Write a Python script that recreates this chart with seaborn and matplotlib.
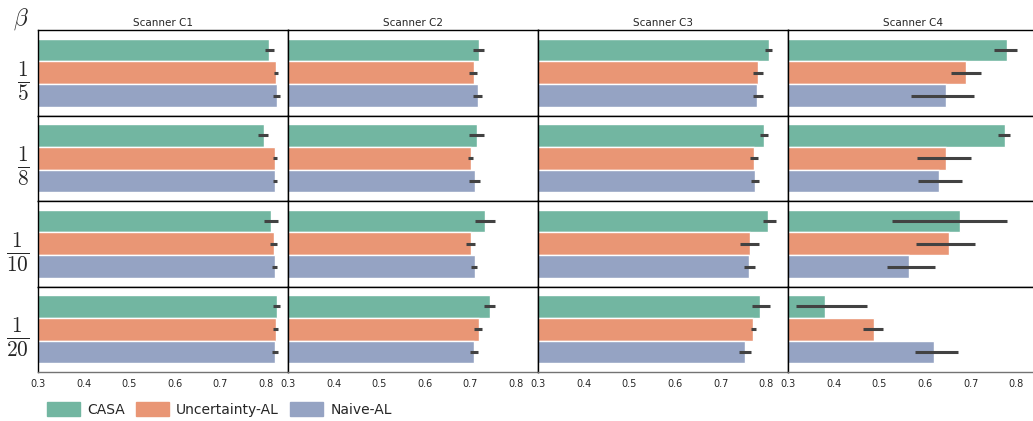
import numpy as np
import pandas as pd
import matplotlib.pyplot as plt
import seaborn as sns

sns.set_style("white")
plt.rcParams["mathtext.fontset"] = "cm"

# =======================================================================
# 1. DATA (mean score and error-bar limits)
# =======================================================================
scanners = ["Scanner C1", "Scanner C2", "Scanner C3", "Scanner C4"]
betas = [r"$\frac{1}{5}$", r"$\frac{1}{8}$", r"$\frac{1}{10}$", r"$\frac{1}{20}$"]
methods = ["CASA", "Uncertainty-AL", "Naive-AL"]

# rows = beta (1/5, 1/8, 1/10, 1/20), cols = method (CASA, Unc-AL, Naive-AL)
c1_mean = [[0.806, 0.821, 0.823], [0.795, 0.819, 0.819], [0.810, 0.817, 0.819], [0.823, 0.821, 0.819]]
c1_lo = [[0.797, 0.817, 0.815], [0.783, 0.814, 0.814], [0.795, 0.808, 0.812], [0.816, 0.816, 0.813]]
c1_hi = [[0.817, 0.826, 0.831], [0.805, 0.823, 0.824], [0.826, 0.823, 0.823], [0.830, 0.825, 0.825]]

c2_mean = [[0.718, 0.707, 0.716], [0.714, 0.701, 0.710], [0.732, 0.701, 0.710], [0.743, 0.718, 0.707]]
c2_lo = [[0.705, 0.696, 0.706], [0.696, 0.695, 0.697], [0.710, 0.690, 0.701], [0.730, 0.708, 0.698]]
c2_hi = [[0.729, 0.715, 0.725], [0.730, 0.705, 0.720], [0.754, 0.710, 0.715], [0.754, 0.726, 0.716]]

c3_mean = [[0.807, 0.782, 0.780], [0.796, 0.774, 0.776], [0.804, 0.765, 0.763], [0.787, 0.771, 0.754]]
c3_lo = [[0.798, 0.770, 0.770], [0.786, 0.764, 0.767], [0.793, 0.743, 0.751], [0.769, 0.766, 0.740]]
c3_hi = [[0.813, 0.793, 0.792], [0.803, 0.782, 0.785], [0.822, 0.784, 0.775], [0.808, 0.777, 0.767]]

c4_mean = [[0.780, 0.690, 0.646], [0.776, 0.646, 0.631], [0.677, 0.653, 0.565], [0.381, 0.488, 0.620]]
c4_lo = [[0.752, 0.657, 0.570], [0.759, 0.583, 0.584], [0.528, 0.581, 0.517], [0.318, 0.465, 0.578]]
c4_hi = [[0.802, 0.722, 0.708], [0.787, 0.700, 0.682], [0.779, 0.709, 0.621], [0.472, 0.508, 0.673]]

means = [c1_mean, c2_mean, c3_mean, c4_mean]
lows = [c1_lo, c2_lo, c3_lo, c4_lo]
highs = [c1_hi, c2_hi, c3_hi, c4_hi]

rows = []
for s, scanner in enumerate(scanners):
    for b, beta in enumerate(betas):
        for m, method in enumerate(methods):
            rows.append({"scanner": scanner, "beta": beta, "method": method,
                         "score": means[s][b][m], "lo": lows[s][b][m], "hi": highs[s][b][m]})
df = pd.DataFrame(rows)

# =======================================================================
# 2. PLOT
# =======================================================================
fig = plt.figure(figsize=(10.33, 4.21), dpi=100)
gs = fig.add_gridspec(4, 4, left=0.0368, right=1.005, bottom=0.1164, top=0.9287,
                      wspace=0, hspace=0)
palette = sns.color_palette("Set2", 3)

for b, beta in enumerate(betas):
    for s, scanner in enumerate(scanners):
        ax = fig.add_subplot(gs[b, s])
        sub = df[(df["scanner"] == scanner) & (df["beta"] == beta)]
        sns.barplot(data=sub, x="score", y="beta", hue="method", hue_order=methods,
                    palette=palette, errorbar=None, orient="h", legend=False, ax=ax)

        # --- error bars, placed on the centre of each drawn bar ---
        for patch, (_, r) in zip(ax.patches, sub.iterrows()):
            yc = patch.get_y() + patch.get_height() / 2
            ax.plot([r["lo"], r["hi"]], [yc, yc], color=".26", lw=2.2,
                    solid_capstyle="butt")

        ax.set_xlim(0.3, 0.848)
        ax.set_ylim(0.5, -0.5)
        ax.set_xticks([0.3, 0.4, 0.5, 0.6, 0.7, 0.8])
        ax.set_xlabel("")
        ax.set_ylabel("")
        for sp in ax.spines.values():
            sp.set_color("black")
            sp.set_linewidth(1)
        if b == 3:
            ax.spines["bottom"].set_color("0.45")
        ax.tick_params(axis="both", length=3, width=0.8, labelsize=7, pad=2)
        if b == 0:
            ax.set_title(scanner, fontsize=7.5, pad=3)
        if b < 3:
            ax.tick_params(axis="x", bottom=False, labelbottom=False)
        else:
            ax.set_xticklabels(["0.3", "0.4", "0.5", "0.6", "0.7", "0.8"])
        if s == 0:
            ax.tick_params(axis="y", labelsize=22, pad=3)
        else:
            ax.tick_params(axis="y", labelleft=False)

fig.text(0.013, 0.955, r"$\beta$", fontsize=17, va="center")

handles = [plt.Rectangle((0, 0), 1, 1, color=sns.desaturate(c, 0.75)) for c in palette]
fig.legend(handles, methods, loc="center left", bbox_to_anchor=(0.033, 0.028), ncol=3,
           frameon=False, fontsize=10, handlelength=2.4, handleheight=1.2,
           handletextpad=0.5, columnspacing=0.8)

plt.savefig("out.png", dpi=100)
